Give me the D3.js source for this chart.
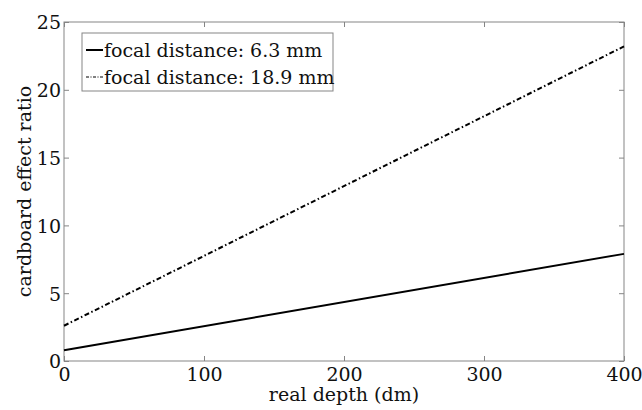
<!DOCTYPE html>
<html><head><meta charset="utf-8">
<script src="https://d3js.org/d3.v7.min.js"></script>
<style>body{margin:0;background:#fff}svg{display:block}text{font-family:"DejaVu Serif",serif}</style>
</head><body><svg id="c" width="642" height="410"></svg>
<script>
const depth = [0, 400];
const ratio63 = [0.8, 7.9];
const ratio189 = [2.6, 23.2];
const xTicks = [0, 100, 200, 300, 400];
const yTicks = [0, 5, 10, 15, 20, 25];
const seriesNames = ["focal distance: 6.3 mm", "focal distance: 18.9 mm"];

const svg = d3.select("#c");
const L = 64, R = 624, T = 22, B = 361;
const x = d3.scaleLinear().domain([0, 400]).range([L, R]);
const y = d3.scaleLinear().domain([0, 25]).range([B, T]);
const gray = "#858585";
const fs = 19;
const font = "'DejaVu Serif', serif";

// box
svg.append("rect").attr("x", L).attr("y", T).attr("width", R - L).attr("height", B - T)
  .attr("fill", "none").attr("stroke", gray).attr("stroke-width", 1);

// axes
const ax = svg.append("g").attr("transform", `translate(0,${B})`)
  .call(d3.axisBottom(x).tickValues(xTicks).tickSize(-5).tickPadding(0).tickFormat(d3.format("d")));
const axT = svg.append("g").attr("transform", `translate(0,${T})`)
  .call(d3.axisTop(x).tickValues(xTicks).tickSize(-5).tickFormat(""));
const ay = svg.append("g").attr("transform", `translate(${L},0)`)
  .call(d3.axisLeft(y).tickValues(yTicks).tickSize(-5).tickPadding(3).tickFormat(d3.format("d")));
const ayR = svg.append("g").attr("transform", `translate(${R},0)`)
  .call(d3.axisRight(y).tickValues(yTicks).tickSize(-5).tickFormat(""));
[ax, axT, ay, ayR].forEach(g => {
  g.select(".domain").remove();
  g.selectAll("line").attr("stroke", gray);
  g.selectAll("text").attr("font-size", fs).attr("fill", "#111").style("font-family", font);
});
ax.selectAll("text").attr("y", 0).attr("dy", "1.05em");
ay.selectAll("text").attr("dy", "0.36em");

// lines
const line = d3.line().x(d => x(d[0])).y(d => y(d[1]));
const d1 = depth.map((d, i) => [d, ratio63[i]]);
const d2 = depth.map((d, i) => [d, ratio189[i]]);
svg.append("path").attr("d", line(d1)).attr("fill", "none").attr("stroke", "#000").attr("stroke-width", 2);
svg.append("path").attr("d", line(d2)).attr("fill", "none").attr("stroke", "#000").attr("stroke-width", 2)
  .attr("stroke-dasharray", "5,2.5,1.5,2.5");

// axis labels
svg.append("text").attr("x", (L + R) / 2).attr("y", 401).attr("text-anchor", "middle")
  .attr("font-size", fs).attr("fill", "#111").text("real depth (dm)");
svg.append("text").attr("transform", `translate(31,${(T + B) / 2}) rotate(-90)`).attr("text-anchor", "middle")
  .attr("font-size", fs).attr("fill", "#111").text("cardboard effect ratio");

// legend
const lg = svg.append("g");
lg.append("rect").attr("x", 82).attr("y", 33).attr("width", 251).attr("height", 58)
  .attr("fill", "#fff").attr("stroke", gray).attr("stroke-width", 1);
const rows = [{y: 50, dash: null}, {y: 77, dash: "3,1.5,1,1.5"}];
rows.forEach((r, i) => {
  lg.append("line").attr("x1", 86).attr("x2", 103).attr("y1", r.y).attr("y2", r.y)
    .attr("stroke", "#000").attr("stroke-width", i === 0 ? 2 : 1.2).attr("stroke-dasharray", r.dash);
  lg.append("text").attr("x", 104).attr("y", r.y).attr("dy", "0.36em").attr("font-size", fs)
    .attr("fill", "#111").text(seriesNames[i]);
});
</script></body></html>
